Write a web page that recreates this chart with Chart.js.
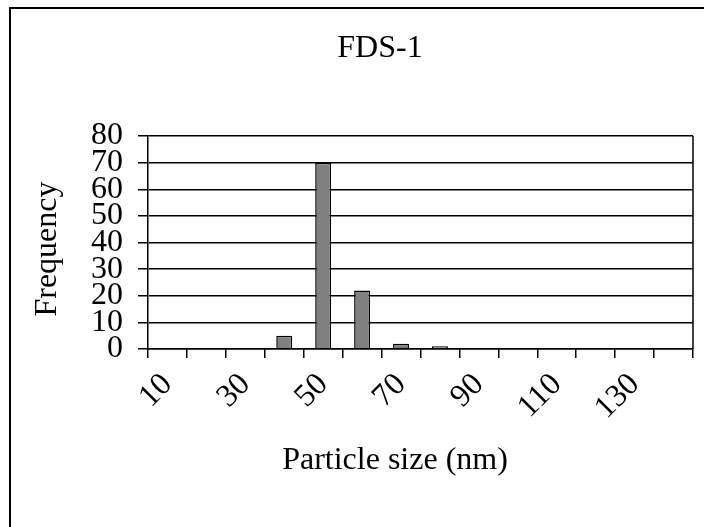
<!DOCTYPE html>
<html>
<head>
<meta charset="utf-8">
<script src="https://cdn.jsdelivr.net/npm/chart.js@4/dist/chart.umd.min.js"></script>
<style>
  html, body { margin: 0; padding: 0; background: #fff; overflow: hidden; }
  #wrap { width: 704px; height: 527px; position: relative; }
</style>
</head>
<body>
<div id="wrap"><canvas id="c"></canvas></div>
<script>
// Particle size bins (nm) and counts per bin
const sizes = [10, 20, 30, 40, 50, 60, 70, 80, 90, 100, 110, 120, 130, 140];
const frequency = [0, 0, 0, 5, 70, 22, 2, 1, 0, 0, 0, 0, 0, 0];
// Only every other bin is labelled on the axis
const shownLabels = ['10', '30', '50', '70', '90', '110', '130'];

const chartTitle = 'FDS-1';
const xTitle = 'Particle size (nm)';
const yTitle = 'Frequency';

const serif = 'Liberation Serif';

// Outer frame, right edge of the plot area and the text titles
const framePlugin = {
  id: 'frame',
  beforeDraw(chart) {
    const ctx = chart.ctx;
    ctx.save();
    ctx.fillStyle = '#fff';
    ctx.fillRect(0, 0, chart.width, chart.height);
    ctx.strokeStyle = '#000';
    ctx.lineWidth = 2;
    ctx.beginPath();
    ctx.moveTo(10, 1000);
    ctx.lineTo(10, 8);
    ctx.lineTo(1000, 8);
    ctx.stroke();
    ctx.restore();
  },
  afterDraw(chart) {
    const {ctx, chartArea} = chart;
    ctx.save();
    ctx.strokeStyle = '#000';
    ctx.lineWidth = 1.5;
    ctx.beginPath();
    ctx.moveTo(chartArea.right, chartArea.top);
    ctx.lineTo(chartArea.right, chartArea.bottom);
    ctx.stroke();

    ctx.fillStyle = '#000';
    ctx.textAlign = 'center';
    ctx.textBaseline = 'alphabetic';
    ctx.font = '32px "' + serif + '"';
    ctx.fillText(chartTitle, 380, 57);

    ctx.fillText(xTitle, 395, 469);

    ctx.translate(56, 249);
    ctx.rotate(-Math.PI / 2);
    ctx.fillText(yTitle, 0, 0);
    ctx.restore();
  }
};

new Chart(document.getElementById('c'), {
  type: 'bar',
  data: {
    labels: sizes.map(String),
    datasets: [{
      data: frequency,
      backgroundColor: '#808080',
      borderColor: '#000',
      borderWidth: 1.5,
      barPercentage: 0.41,
      categoryPercentage: 1
    }]
  },
  options: {
    responsive: true,
    maintainAspectRatio: false,
    animation: false,
    layout: { padding: { left: 0, right: 11, top: 136, bottom: 0 } },
    plugins: {
      legend: { display: false },
      tooltip: { enabled: false },
      title: { display: false }
    },
    scales: {
      x: {
        afterFit(scale) {
          scale.height = 178;
          scale.paddingLeft = 0;
          scale.paddingRight = 0;
        },
        grid: {
          display: true,
          offset: true,
          drawOnChartArea: false,
          drawTicks: true,
          tickLength: 9,
          color: '#000',
          lineWidth: 1.5
        },
        border: { display: true, color: '#000', width: 1.5 },
        ticks: {
          autoSkip: false,
          minRotation: 45,
          maxRotation: 45,
          padding: 8,
          color: '#000',
          font: { family: serif, size: 32 },
          callback(value, index) {
            const lab = sizes[index].toString();
            return shownLabels.includes(lab) ? lab : '';
          }
        }
      },
      y: {
        min: 0,
        max: 80,
        afterFit(scale) {
          scale.width = 148;
          scale.paddingTop = 0;
          scale.paddingBottom = 0;
        },
        grid: {
          color: '#000',
          lineWidth: 1.5,
          drawTicks: true,
          tickLength: 10
        },
        border: { display: true, color: '#000', width: 1.5 },
        ticks: {
          stepSize: 10,
          autoSkip: false,
          padding: 15,
          color: '#000',
          font: { family: serif, size: 32 }
        }
      }
    }
  },
  plugins: [framePlugin]
});
</script>
</body>
</html>
